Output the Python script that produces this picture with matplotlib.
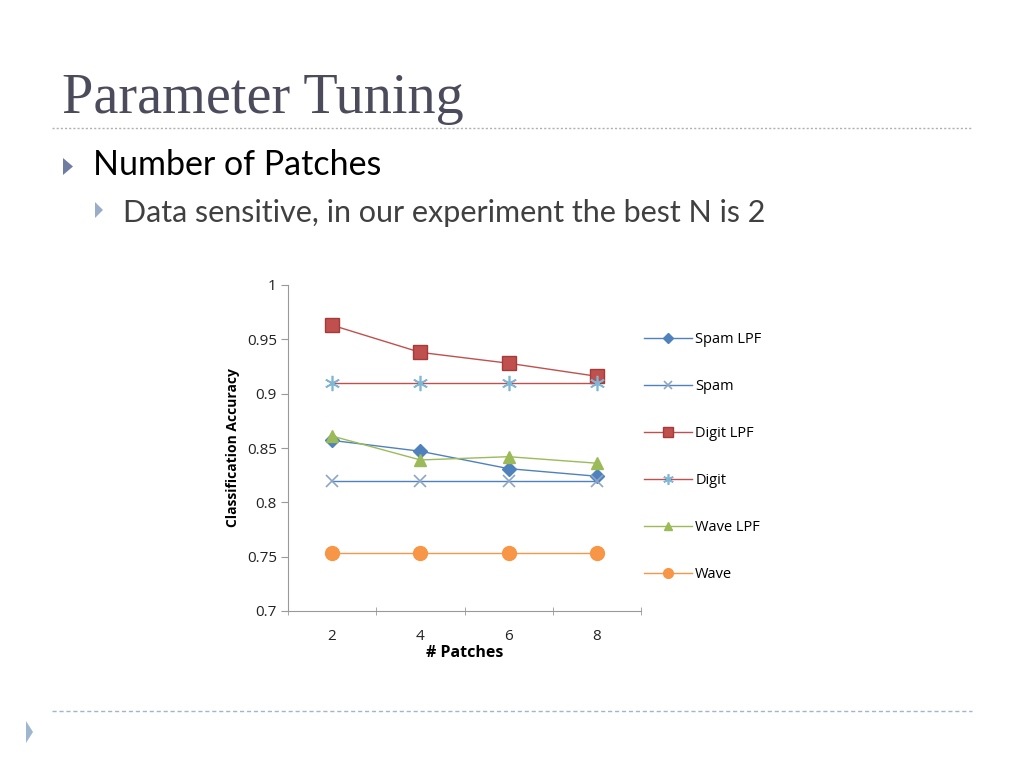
import numpy as np
import matplotlib.pyplot as plt
from matplotlib.lines import Line2D
from matplotlib.patches import Polygon

# data
patches = ["2", "4", "6", "8"]
spam_lpf = [0.857, 0.847, 0.831, 0.824]
spam = [0.82, 0.82, 0.82, 0.82]
digit_lpf = [0.963, 0.938, 0.928, 0.916]
digit = [0.91, 0.91, 0.91, 0.91]
wave_lpf = [0.861, 0.839, 0.842, 0.836]
wave = [0.753, 0.753, 0.753, 0.753]
yticks = [0.7, 0.75, 0.8, 0.85, 0.9, 0.95, 1.0]
ytick_labels = ["0.7", "0.75", "0.8", "0.85", "0.9", "0.95", "1"]

W, H = 1024, 768
fig = plt.figure(figsize=(10.24, 7.68), dpi=100)
fig.patch.set_facecolor("white")


def tri(x0, x1, y0, y1, color):
    # pixel coords, y from top
    pts = [(x0 / W, 1 - y0 / H), (x0 / W, 1 - y1 / H), (x1 / W, 1 - (y0 + y1) / 2 / H)]
    fig.add_artist(Polygon(pts, closed=True, fc=color, ec="none"))


# slide decoration
fig.text(62/W, 1 - 99/H, "Parameter Tuning", fontsize=40.5, family="Liberation Serif",
         color="#4b4b5c", va="center", ha="left")
fig.add_artist(Line2D([52/W, 972/W], [1 - 128/H] * 2, color="#b0b0b0",
                      lw=1, ls=(0, (1.5, 1.5))))
tri(63, 73, 158, 175, "#6f7ea0")
fig.text(93/W, 1 - 165/H, "Number of Patches", fontsize=24.5, family="Lato",
         color="black", va="center", ha="left")
tri(95, 103, 202, 218, "#9aadc8")
fig.text(123/W, 1 - 213/H, "Data sensitive, in our experiment the best N is 2", fontsize=22,
         family="Lato", color="#404040", va="center", ha="left")
fig.add_artist(Line2D([52/W, 972/W], [1 - 711/H] * 2, color="#9fb6cf",
                      lw=1, ls=(0, (3, 2))))
tri(26, 33, 721, 743, "#9fb6cf")

# chart
ax = fig.add_axes([288/W, 1 - 611/H, 353/W, 326/H])
x = np.arange(len(patches))
ax.plot(x, spam_lpf, color="#4f81bd", marker="D", markersize=7, lw=1, label="Spam LPF")
ax.plot(x, spam, color="#4f81bd", marker="x", markersize=9, mec="#8ea6c6", mew=1.2, lw=1, label="Spam")
ax.plot(x, digit_lpf, color="#c0504d", marker="s", markersize=10, mec="#a33b39", lw=1, label="Digit LPF")
ax.plot(x, digit, color="#c0504d", marker=(6, 2, 0), markersize=11, mec="#7fb6d6", mew=1.2, lw=1,
        label="Digit")
ax.plot(x, wave_lpf, color="#9bbb59", marker="^", markersize=9, lw=1, label="Wave LPF")
ax.plot(x, wave, color="#f79646", marker="o", markersize=10, lw=1, label="Wave")

ax.set_xlim(-0.5, 3.5)
ax.set_ylim(0.7, 1.0)
ax.set_yticks(yticks)
ax.set_yticklabels(ytick_labels)
ax.set_xticks(x)
ax.set_xticklabels(patches)
ax.set_xticks(np.arange(-0.5, 4, 1), minor=True)
ax.tick_params(axis="x", which="major", length=0, pad=13)
ax.tick_params(axis="x", which="minor", length=6, color="#999999", direction="inout")
ax.tick_params(axis="y", length=5, color="#999999", direction="out", pad=3)
ax.tick_params(labelsize=11, labelcolor="#222222")
for lab in ax.get_xticklabels() + ax.get_yticklabels():
    lab.set_family("Open Sans")
for s in ["top", "right"]:
    ax.spines[s].set_visible(False)
for s in ["left", "bottom"]:
    ax.spines[s].set_color("#999999")
ax.set_xlabel("# Patches", fontsize=11.5, fontweight="bold", family="Open Sans", labelpad=1)
ax.set_ylabel("Classification Accuracy", fontsize=10, fontweight="bold", family="Open Sans",
              labelpad=5)

leg = ax.legend(loc="center left", bbox_to_anchor=(631/W, 1 - 457/H), bbox_transform=fig.transFigure,
                frameon=False, labelspacing=2.2, handlelength=3.3, handletextpad=0.2,
                markerscale=0.7, prop={"family": "Open Sans", "size": 10.5})

fig.savefig("out.png", dpi=100)
